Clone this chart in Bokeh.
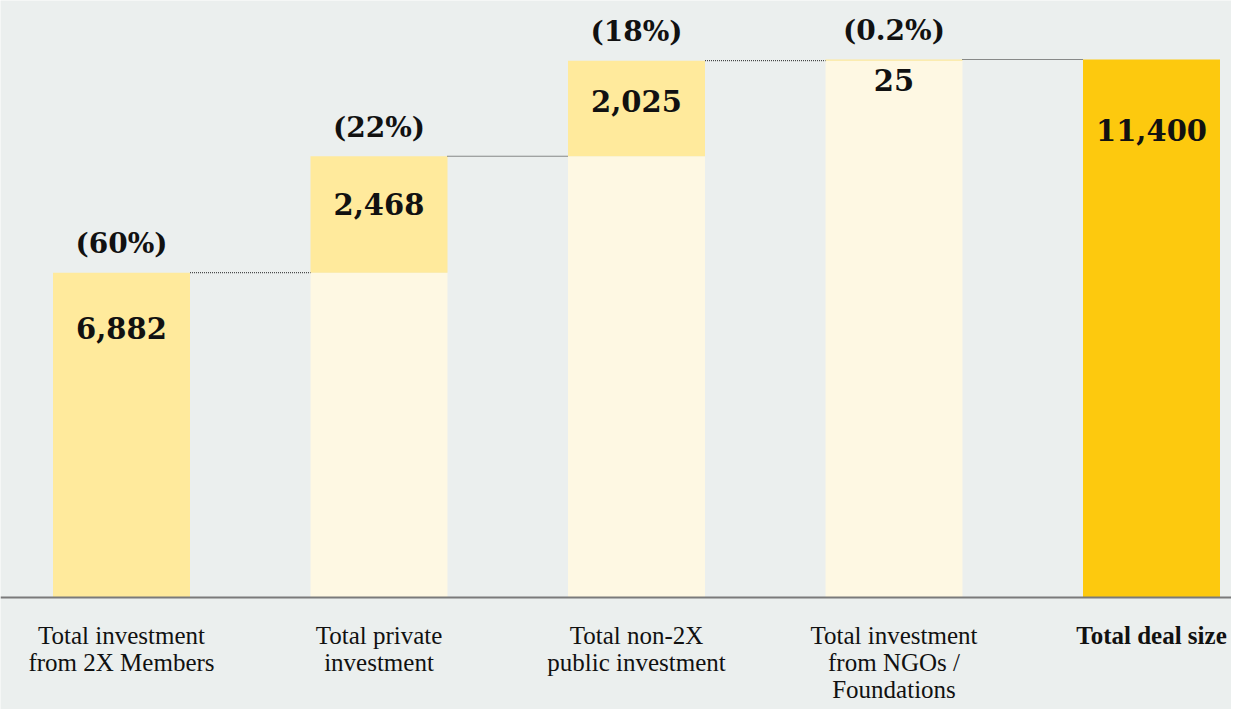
import numpy as np
from bokeh.plotting import figure
from bokeh.models import Range1d, Span
from bokeh.core.properties import value
from bokeh.embed import file_html
from bokeh.resources import INLINE

# ---- data ----
categories = ["Total investment\nfrom 2X Members", "Total private\ninvestment",
              "Total non-2X\npublic investment", "Total investment\nfrom NGOs /\nFoundations",
              "Total deal size"]
contributions = [6882, 2468, 2025, 25]
total = 11400
value_labels = ["6,882", "2,468", "2,025", "25", "11,400"]
pct_labels = ["(60%)", "(22%)", "(18%)", "(0.2%)"]

# ---- styling ----
BG = "#EBEFEE"
INC = "#FFEA9C"
BASE = "#FEF8E3"
TOT = "#FDC90E"
W, H = 1231, 709
px_per_cat = 257.5
bar_w = 137 / px_per_cat
baseline_px = 597
top_px = 59
px_per_unit = (baseline_px - top_px) / total
x_start = -121 / px_per_cat
x_end = x_start + W / px_per_cat
y_end = baseline_px / px_per_unit
y_start = -(H - baseline_px) / px_per_unit

p = figure(width=W, height=H, output_backend="svg", toolbar_location=None,
           x_range=Range1d(x_start, x_end), y_range=Range1d(y_start, y_end),
           x_axis_location=None, y_axis_location=None, min_border=0)
p.background_fill_color = BG
p.border_fill_color = BG
p.outline_line_color = None
p.grid.visible = False

n = len(contributions)
xs = np.arange(n + 1)
cum = np.cumsum(contributions)
bottoms = np.concatenate([[0], cum[:-1]])

# cream bases under increments
p.vbar(x=xs[1:n], bottom=0, top=bottoms[1:], width=bar_w, fill_color=BASE, line_color=None)
# increments
p.vbar(x=xs[:n], bottom=bottoms, top=cum, width=bar_w, fill_color=INC, line_color=None)
# total
p.vbar(x=[xs[n]], bottom=0, top=[total], width=bar_w, fill_color=TOT, line_color=None)

# dotted connectors
p.segment(x0=xs[:n] + bar_w / 2, x1=xs[1:] - bar_w / 2, y0=cum, y1=cum,
          line_color="#222222", line_width=1, line_dash="1 1")

# baseline
p.add_layout(Span(location=0, dimension="width", line_color="#7A7A7A", line_width=2))

# value labels (offset below each bar top, px)
tops = list(cum) + [total]
val_offsets = [55, 48, 40, 20, 70]
p.text(x=xs, y=tops, text=value_labels, y_offset=val_offsets,
       text_align="center", text_baseline="middle", text_color="#111111",
       text_font=value("DejaVu Serif"), text_font_style="bold", text_font_size="29px")

# percent labels above increments
p.text(x=xs[:n], y=cum, text=pct_labels, y_offset=-29,
       text_align="center", text_baseline="middle", text_color="#111111",
       text_font=value("DejaVu Serif"), text_font_style="bold", text_font_size="28px")

# category labels
p.text(x=xs[:n], y=[0] * n, text=categories[:n], y_offset=24,
       text_align="center", text_baseline="top", text_color="#111111",
       text_font=value("Liberation Serif"), text_font_size="25px", text_line_height=1.0)
p.text(x=[xs[n]], y=[0], text=[categories[n]], y_offset=24,
       text_align="center", text_baseline="top", text_color="#111111",
       text_font=value("Liberation Serif"), text_font_style="bold", text_font_size="25px")

open("out.html", "w").write(file_html(p, INLINE))
